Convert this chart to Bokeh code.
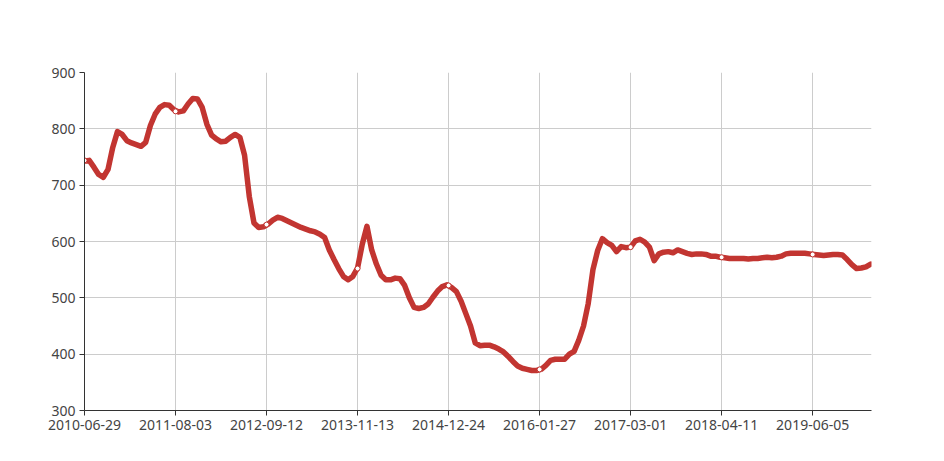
from bokeh.plotting import figure
from bokeh.models import FixedTicker, Range1d
from bokeh.embed import file_html
from bokeh.resources import INLINE

week_step = 3
values = [
    743, 744, 732, 719, 714, 728, 767, 795, 790, 779,
    775, 772, 769, 776, 806, 826, 838, 843, 842, 834,
    830, 832, 844, 854, 853, 838, 808, 789, 782, 777,
    778, 785, 790, 785, 753, 680, 633, 625, 626, 631,
    638, 643, 641, 637, 633, 629, 625, 622, 619, 617,
    613, 607, 585, 568, 552, 538, 532, 538, 553, 595,
    627, 585, 560, 540, 532, 532, 535, 534, 522, 500,
    483, 481, 483, 489, 501, 512, 520, 523, 518, 511,
    494, 472, 450, 420, 415, 416, 416, 413, 409, 404,
    396, 387, 379, 375, 373, 371, 371, 373, 380, 389,
    391, 391, 391, 400, 405, 425, 450, 490, 550, 584,
    605, 598, 593, 582, 591, 589, 590, 601, 604, 599,
    590, 566, 578, 581, 582, 580, 585, 582, 579, 577,
    578, 578, 577, 574, 574, 572, 571, 570, 570, 570,
    570, 569, 570, 570, 571, 572, 571, 572, 574, 578,
    579, 579, 579, 579, 578, 577, 576, 575, 576, 577,
    577, 576, 568, 559, 552, 553, 555, 560,
]
weeks = [i * week_step for i in range(len(values))]

# category labels shown on the x axis (every 58th weekly observation)
label_weeks = [0, 58, 116, 174, 232, 290, 348, 406, 464]
tick_labels = ["2010-06-29", "2011-08-03", "2012-09-12", "2013-11-13", "2014-12-24",
               "2016-01-27", "2017-03-01", "2018-04-11", "2019-06-05"]
# values at the labelled observations (shown with a symbol)
label_values = [744, 831, 630, 552, 522, 373, 590, 572, 577]
y_ticks = [300, 400, 500, 600, 700, 800, 900]

p = figure(width=936, height=453, output_backend="svg", toolbar_location=None,
           x_range=Range1d(0, 501.5), y_range=Range1d(300, 900),
           min_border_left=84, min_border_right=65, min_border_top=72, min_border_bottom=43)
p.outline_line_color = None
p.background_fill_color = "white"
p.border_fill_color = "white"

color = "#c23531"
p.line(weeks, values, line_color=color, line_width=5.5, line_join="round", line_cap="round")
p.scatter(label_weeks, label_values, size=5, fill_color="white", line_color=color, line_width=1)

p.xaxis.ticker = FixedTicker(ticks=label_weeks)
p.xaxis.major_label_overrides = {w: t for w, t in zip(label_weeks, tick_labels)}
p.yaxis.ticker = FixedTicker(ticks=y_ticks)

for ax in (p.xaxis[0], p.yaxis[0]):
    ax.axis_line_color = "#333333"
    ax.major_tick_line_color = "#333333"
    ax.major_tick_out = 5
    ax.major_tick_in = 0
    ax.minor_tick_line_color = None
    ax.major_label_text_font = "Noto Sans"
    ax.major_label_text_font_size = "14px"
    ax.major_label_text_color = "#444444"
    ax.major_label_standoff = 4

p.xgrid.grid_line_color = "#cccccc"
p.ygrid.grid_line_color = "#cccccc"
p.xgrid.ticker = FixedTicker(ticks=label_weeks)
p.ygrid.ticker = FixedTicker(ticks=y_ticks)

open("out.html", "w").write(file_html(p, INLINE))
